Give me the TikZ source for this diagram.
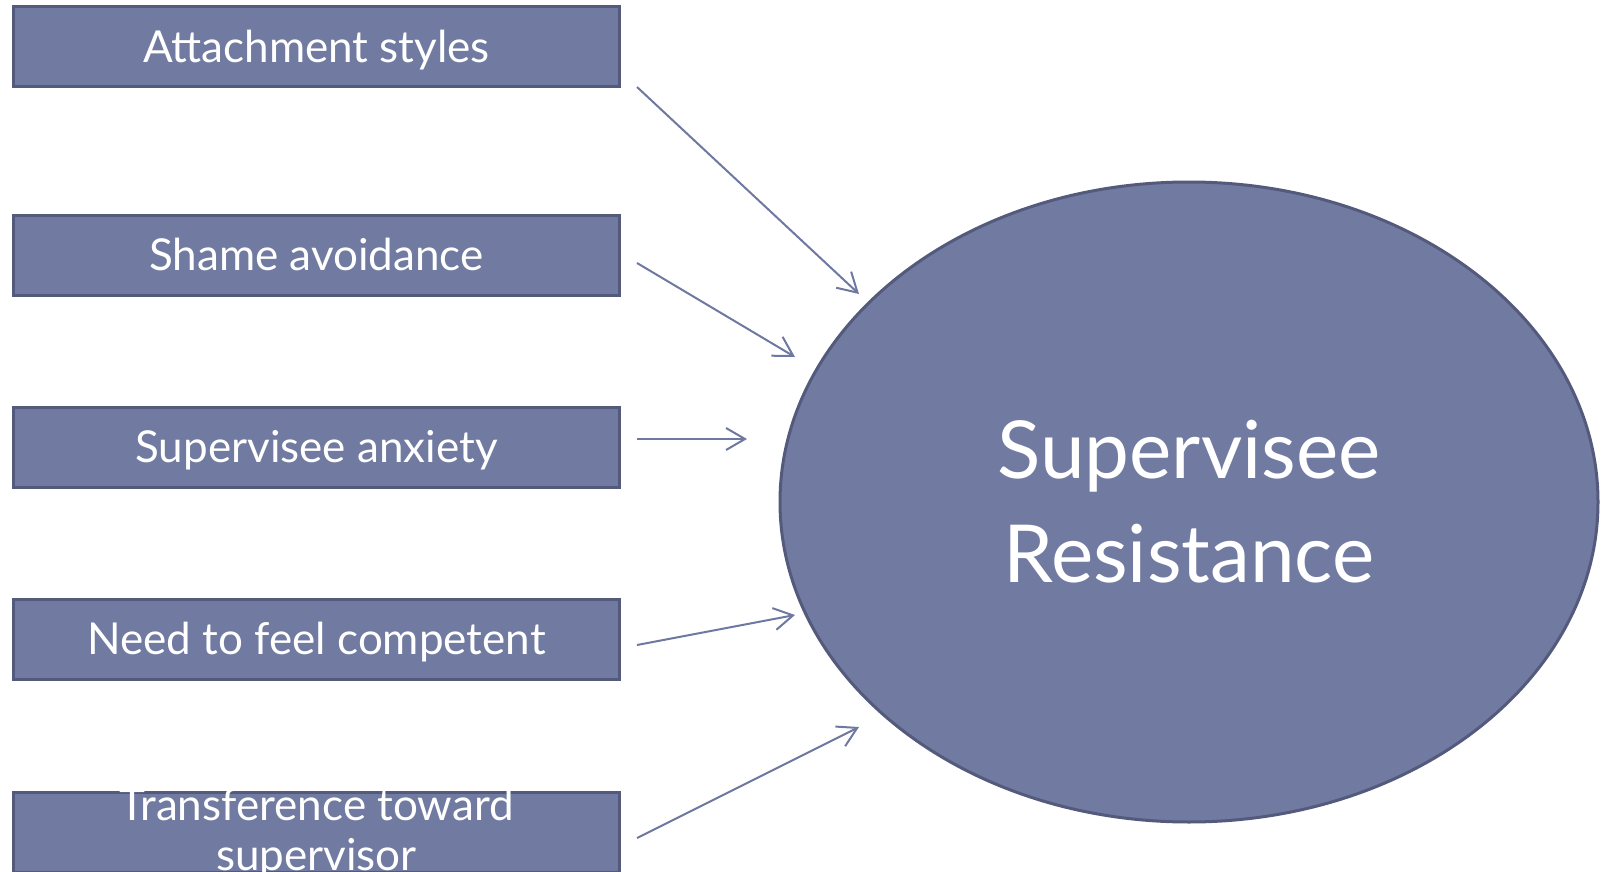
\documentclass[tikz,border=0pt]{standalone}
\usepackage{fontspec}
\setmainfont{Lato}
\usetikzlibrary{arrows.meta,shapes.geometric}
\definecolor{boxfill}{HTML}{717BA1}
\definecolor{boxline}{HTML}{535A7C}
\definecolor{arrowcol}{HTML}{6E78A0}
\begin{document}
\begin{tikzpicture}[x=1pt,y=-1pt,
  boxstyle/.style={rectangle, fill=boxfill, draw=boxline, line width=3pt,
    minimum width=606pt, minimum height=80pt, inner sep=0pt,
    text height=31pt, text depth=0pt,
    text=white, font=\fontsize{44}{50}\selectfont},
  boxtext/.style={text=white, font=\fontsize{44}{50}\selectfont, align=center, inner sep=0pt},
  arr/.style={draw=arrowcol, line width=2pt, -{Straight Barb[length=19pt,width=22pt,line width=2pt]}}]
\useasboundingbox (0,0) rectangle (1604,872);
\node[boxstyle] (b1) at (316.5,47) {Attachment styles};
\node[boxstyle] (b2) at (316.5,255) {Shame avoidance};
\node[boxstyle] (b3) at (316.5,447) {Supervisee anxiety};
\node[boxstyle] (b4) at (316.5,639) {Need to feel competent};
\node[boxstyle] (b5) at (316.5,832) {};
\node[boxtext, anchor=base] (t5) at (316.5,870) {Transference toward\\supervisor};
\node[ellipse, minimum width=818pt, minimum height=640pt, fill=boxfill, draw=boxline, line width=3pt,
  text=white, align=center, font=\fontsize{80}{104}\selectfont, inner sep=0pt] (e) at (1189,502) {Supervisee\\Resistance};
\coordinate (s1) at (637,87);  \coordinate (e1) at (859,294);
\coordinate (s2) at (637,263); \coordinate (e2) at (795,357);
\coordinate (s3) at (637,439); \coordinate (e3) at (747,439);
\coordinate (s4) at (637,645); \coordinate (e4) at (795,615);
\coordinate (s5) at (637,838); \coordinate (e5) at (859,727);
\draw[arr] (s1) -- (e1);
\draw[arr] (s2) -- (e2);
\draw[arr] (s3) -- (e3);
\draw[arr] (s4) -- (e4);
\draw[arr] (s5) -- (e5);
\end{tikzpicture}
\end{document}
